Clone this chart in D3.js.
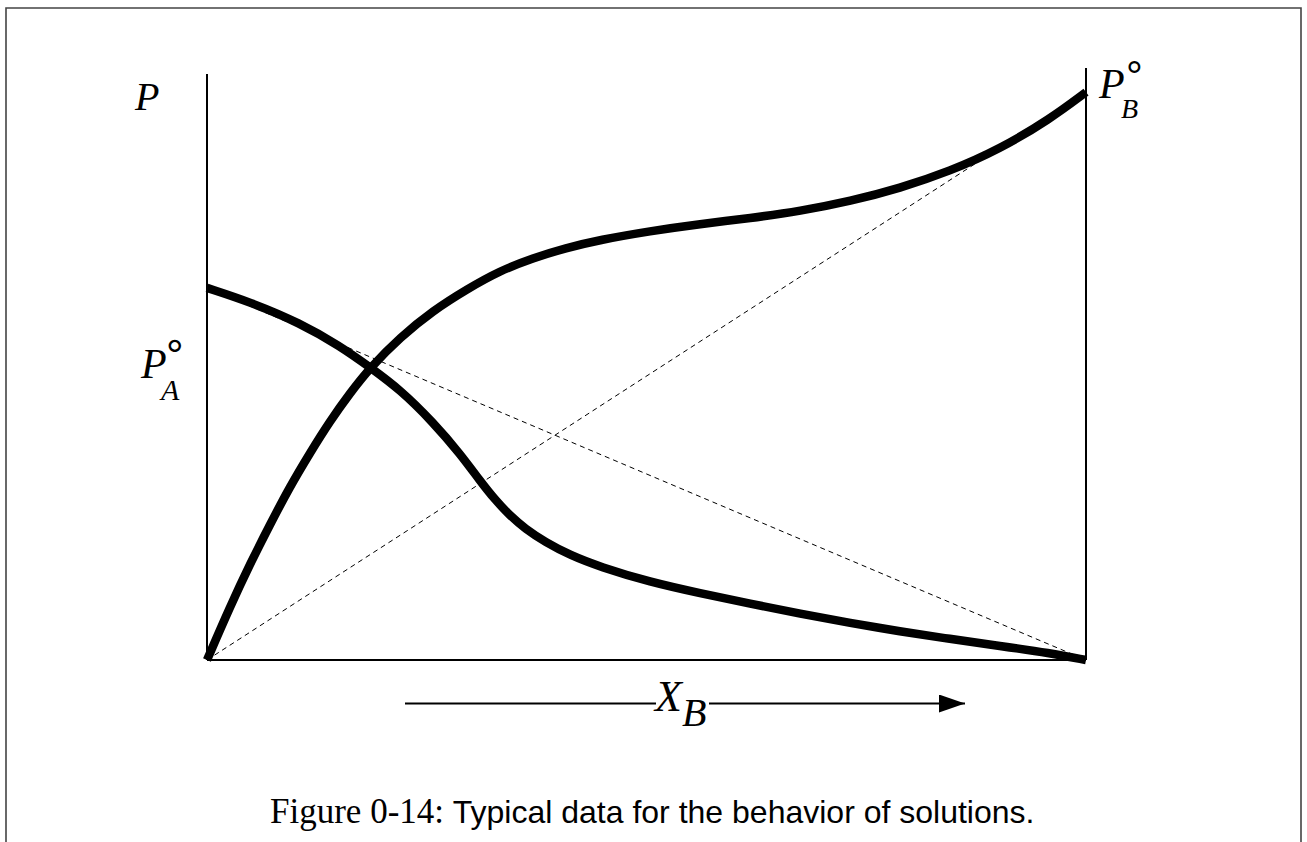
<!DOCTYPE html>
<html>
<head>
<meta charset="utf-8">
<script src="https://cdn.jsdelivr.net/npm/d3@7/dist/d3.min.js"></script>
<style>
  html, body { margin: 0; padding: 0; background: #fff; }
  svg { display: block; }
</style>
</head>
<body>
<script>
// Vapour pressure of component A across the mole fraction of B
const xA = [0, 0.049, 0.106, 0.151, 0.185, 0.22, 0.257, 0.288, 0.311, 0.328, 0.345, 0.362, 0.385,
            0.413, 0.447, 0.504, 0.561, 0.618, 0.675, 0.732, 0.788, 0.845, 0.902, 0.959, 1];
const pA = [0.635, 0.611, 0.575, 0.536, 0.5, 0.461, 0.406, 0.352, 0.305, 0.273, 0.246, 0.224, 0.201,
            0.179, 0.159, 0.133, 0.114, 0.096, 0.079, 0.063, 0.049, 0.036, 0.024, 0.012, 0];

// Vapour pressure of component B across the mole fraction of B
const xB = [0, 0.026, 0.049, 0.072, 0.094, 0.117, 0.14, 0.163, 0.185, 0.22, 0.257, 0.296, 0.333,
            0.371, 0.408, 0.447, 0.504, 0.561, 0.618, 0.675, 0.732, 0.788, 0.845, 0.902, 0.959, 1];
const pB = [0, 0.09, 0.164, 0.232, 0.295, 0.353, 0.408, 0.456, 0.498, 0.551, 0.596, 0.633, 0.664,
            0.686, 0.703, 0.717, 0.732, 0.744, 0.754, 0.766, 0.783, 0.805, 0.834, 0.872, 0.923, 0.969];

// Pure-component pressures (ends of the ideal Raoult lines)
const pureA = 0.635;
const pureB = 0.969;

const captionNumber = "Figure 0-14:";
const captionText = "Typical data for the behavior of solutions.";

const W = 1307, H = 842;
const svg = d3.select("body").append("svg").attr("width", W).attr("height", H);

// page frame (open at the bottom)
svg.append("path")
  .attr("d", `M6,${H} V8 H1301 V${H}`)
  .attr("fill", "none").attr("stroke", "#444").attr("stroke-width", 1.6);

const x = d3.scaleLinear().domain([0, 1]).range([207, 1086]);
const y = d3.scaleLinear().domain([0, 1]).range([660, 74]);

// axes frame: left axis, right axis, baseline
svg.append("line").attr("x1", x(0)).attr("x2", x(0)).attr("y1", y(1)).attr("y2", y(0))
  .attr("stroke", "#000").attr("stroke-width", 2);
svg.append("line").attr("x1", x(1)).attr("x2", x(1)).attr("y1", y(1) - 6).attr("y2", y(0))
  .attr("stroke", "#000").attr("stroke-width", 2);
svg.append("line").attr("x1", x(0)).attr("x2", x(1)).attr("y1", y(0)).attr("y2", y(0))
  .attr("stroke", "#000").attr("stroke-width", 2.2);

// ideal (Raoult) dashed lines
const ideal = [
  [[0, pureA], [1, 0]],
  [[0, 0], [1, pureB]]
];
svg.selectAll("line.ideal").data(ideal).join("line")
  .attr("class", "ideal")
  .attr("x1", d => x(d[0][0])).attr("y1", d => y(d[0][1]))
  .attr("x2", d => x(d[1][0])).attr("y2", d => y(d[1][1]))
  .attr("stroke", "#000").attr("stroke-width", 1)
  .attr("stroke-dasharray", "5,4");

// measured curves
const line = d3.line()
  .x(d => x(d[0])).y(d => y(d[1]))
  .curve(d3.curveBasis);

const curves = [
  d3.zip(xA, pA),
  d3.zip(xB, pB)
];
svg.selectAll("path.curve").data(curves).join("path")
  .attr("class", "curve")
  .attr("d", line)
  .attr("fill", "none").attr("stroke", "#000")
  .attr("stroke-width", 8.5).attr("stroke-linecap", "butt");

// labels: symbol with superscript ring and subscript, one text element each
const serifI = "'Liberation Serif', 'DejaVu Serif', serif";
const sans = "'Liberation Sans', sans-serif";

function symbolLabel(px, py, main, mainSize, sub, subSize, subX, subY, ring) {
  const t = svg.append("text").attr("font-family", serifI).attr("font-style", "italic");
  t.append("tspan").attr("x", px).attr("y", py).attr("font-size", mainSize).text(main);
  if (ring) {
    t.append("tspan").attr("x", ring[0]).attr("y", ring[1])
      .attr("font-family", sans).attr("font-style", "normal")
      .attr("font-size", ring[2]).text("°");
  }
  if (sub) {
    t.append("tspan").attr("x", subX).attr("y", subY).attr("font-size", subSize).text(sub);
  }
}

symbolLabel(135, 110, "P", 40);
symbolLabel(141, 378, "P", 42, "A", 30, 161, 400, [166, 371, 44]);
symbolLabel(1099, 98, "P", 42, "B", 28, 1121, 118, [1126, 91, 42]);

// X_B with the direction arrow
svg.append("defs").append("marker")
  .attr("id", "head").attr("viewBox", "0 0 26 18")
  .attr("refX", 26).attr("refY", 9)
  .attr("markerWidth", 26).attr("markerHeight", 18)
  .attr("markerUnits", "userSpaceOnUse").attr("orient", "auto")
  .append("path").attr("d", "M0,0 L26,9 L0,18 Z").attr("fill", "#000");

svg.append("line").attr("x1", 405).attr("x2", 656).attr("y1", 703.5).attr("y2", 703.5)
  .attr("stroke", "#000").attr("stroke-width", 2);
svg.append("line").attr("x1", 709).attr("x2", 965).attr("y1", 703.5).attr("y2", 703.5)
  .attr("stroke", "#000").attr("stroke-width", 2)
  .attr("marker-end", "url(#head)");

symbolLabel(655, 711, "X", 44, "B", 40, 682, 726);

// caption
const cap = svg.append("text").attr("x", 270).attr("y", 823);
cap.append("tspan").attr("font-family", "'Liberation Serif', serif").attr("font-size", 35)
  .text(captionNumber + " ");
cap.append("tspan").attr("font-family", sans).attr("font-size", 32)
  .text(captionText);
</script>
</body>
</html>
